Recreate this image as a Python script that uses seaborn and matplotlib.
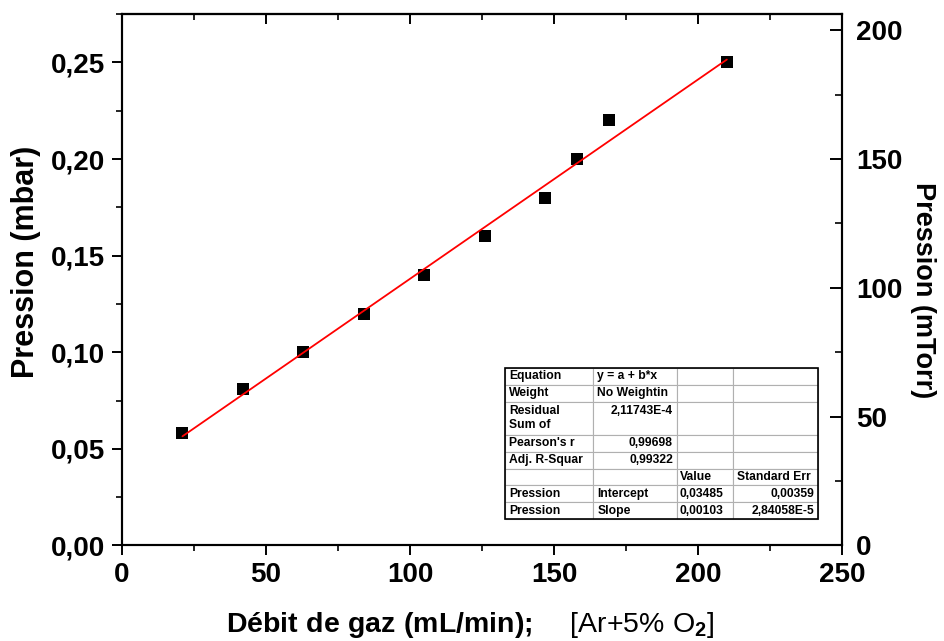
import matplotlib
matplotlib.use('Agg')
import matplotlib.pyplot as plt
from matplotlib.ticker import MultipleLocator, FuncFormatter, NullFormatter
from matplotlib.patches import Rectangle
import seaborn as sns

# gas flow (mL/min) and measured pressure (mbar)
flow = [21, 42, 63, 84, 105, 126, 147, 158, 169, 210]
pressure_mbar = [0.058, 0.081, 0.100, 0.120, 0.140, 0.160, 0.180, 0.200, 0.220, 0.250]

MBAR_PER_MTORR = 1.33322e-3

# linear fit report (as exported)
fit_rows = [
    ["Equation", "y = a + b*x", "", ""],
    ["Weight", "No Weightin", "", ""],
    ["Residual\nSum of", "2,11743E-4\n", "", ""],
    ["Pearson's r", "0,99698", "", ""],
    ["Adj. R-Squar", "0,99322", "", ""],
    ["", "", "Value", "Standard Err"],
    ["Pression", "Intercept", "0,03485", "0,00359"],
    ["Pression", "Slope", "0,00103", "2,84058E-5"],
]
right_cells = [(2, 1), (3, 1), (4, 1), (6, 3), (7, 3)]
col_widths = [88, 84, 56, 85]
row_heights = [1, 1, 2, 1, 1, 1, 1, 1]


def comma(fmt):
    return FuncFormatter(lambda v, pos: format(v, fmt).replace('.', ','))


def main():
    sns.set_style('ticks')
    plt.rcParams['font.family'] = ['Liberation Sans', 'DejaVu Sans']
    plt.rcParams['font.weight'] = 'bold'
    plt.rcParams['axes.labelweight'] = 'bold'
    for key in ['text.color', 'axes.labelcolor', 'xtick.color', 'ytick.color',
                'axes.edgecolor']:
        plt.rcParams[key] = 'black'
    plt.rcParams['mathtext.fontset'] = 'custom'
    plt.rcParams['mathtext.rm'] = 'Liberation Sans'
    plt.rcParams['mathtext.bf'] = 'Liberation Sans:bold'
    plt.rcParams['mathtext.it'] = 'Liberation Sans:italic'

    fig, ax = plt.subplots(figsize=(9.44, 6.41), dpi=100)
    fig.subplots_adjust(left=0.1292, right=0.892, bottom=0.149, top=0.978)

    sns.regplot(x=flow, y=pressure_mbar, ax=ax, ci=None, truncate=True, marker='s',
                scatter_kws=dict(s=85, color='black', alpha=1, linewidths=0, zorder=3),
                line_kws=dict(color='red', lw=1.3, zorder=4))

    ax.set_xlim(0, 250)
    ax.set_ylim(0, 0.275)
    ax.xaxis.set_major_locator(MultipleLocator(50))
    ax.xaxis.set_minor_locator(MultipleLocator(25))
    ax.yaxis.set_major_locator(MultipleLocator(0.05))
    ax.yaxis.set_minor_locator(MultipleLocator(0.025))
    ax.yaxis.set_major_formatter(comma('.2f'))
    ax.tick_params(which='major', direction='out', length=7, width=1.4,
                   labelsize=20, pad=5)
    ax.tick_params(which='minor', direction='out', length=4, width=1.2)
    ax.tick_params(axis='x', top=False, which='both')
    ax.tick_params(axis='y', right=False, which='both')
    for lab in ax.get_xticklabels() + ax.get_yticklabels():
        lab.set_fontweight('bold')
    for sp in ax.spines.values():
        sp.set_linewidth(1.5)

    ax.set_ylabel('Pression (mbar)', fontsize=22)
    ax.yaxis.set_label_coords(-0.112, 0.533)
    ax.set_xlabel(r'$\mathbf{Débit\ de\ gaz\ (mL/min);}$    [Ar+5% O$_2$]',
                  fontsize=20.5, fontweight='normal')
    ax.xaxis.set_label_coords(0.483, -0.122)

    # top axis: inward ticks, no labels
    top = ax.secondary_xaxis('top')
    top.xaxis.set_major_locator(MultipleLocator(50))
    top.xaxis.set_minor_locator(MultipleLocator(25))
    top.xaxis.set_major_formatter(NullFormatter())
    top.tick_params(which='major', direction='in', length=7, width=1.4)
    top.tick_params(which='minor', direction='in', length=4, width=1.2)
    top.spines['top'].set_linewidth(1.5)

    # right axis in mTorr
    ax2 = ax.twinx()
    ax2.set_ylim(0, 0.275 / MBAR_PER_MTORR)
    ax2.yaxis.set_major_locator(MultipleLocator(50))
    ax2.yaxis.set_minor_locator(MultipleLocator(25))
    ax2.tick_params(which='major', direction='in', length=9, width=1.4,
                    labelsize=20, pad=10)
    ax2.tick_params(which='minor', direction='in', length=5, width=1.2)
    for lab in ax2.get_yticklabels():
        lab.set_fontweight('bold')
    for sp in ax2.spines.values():
        sp.set_linewidth(1.5)
    ax2.set_ylabel('Pression (mTorr)', fontsize=19.5, rotation=270)
    ax2.yaxis.set_label_coords(1.094, 0.48)
    ax2.yaxis.label.set_verticalalignment('bottom')

    # fit report table
    tb_left, tb_bottom, tb_w, tb_h = 0.532, 0.050, 0.435, 0.284
    table = ax2.table(cellText=fit_rows, cellLoc='left',
                      bbox=[tb_left, tb_bottom, tb_w, tb_h], zorder=5)
    table.auto_set_font_size(False)
    total_w = sum(col_widths)
    for (r, c), cell in table.get_celld().items():
        cell.set_width(col_widths[c] / total_w)
        cell.set_height(row_heights[r] / sum(row_heights))
        cell.set_edgecolor('#b0b0b0')
        cell.set_linewidth(0.8)
        cell.PAD = 0.05
        txt = cell.get_text()
        txt.set_fontsize(8.7)
        txt.set_fontweight('bold')
        txt.set_color('black')
        if (r, c) in right_cells:
            cell._loc = 'right'
            txt.set_horizontalalignment('right')
    ax2.add_patch(Rectangle((tb_left, tb_bottom), tb_w, tb_h, transform=ax2.transAxes,
                            fill=False, ec='black', lw=1.2, zorder=6, clip_on=False))

    plt.savefig('out.png', dpi=100)


if __name__ == '__main__':
    main()
